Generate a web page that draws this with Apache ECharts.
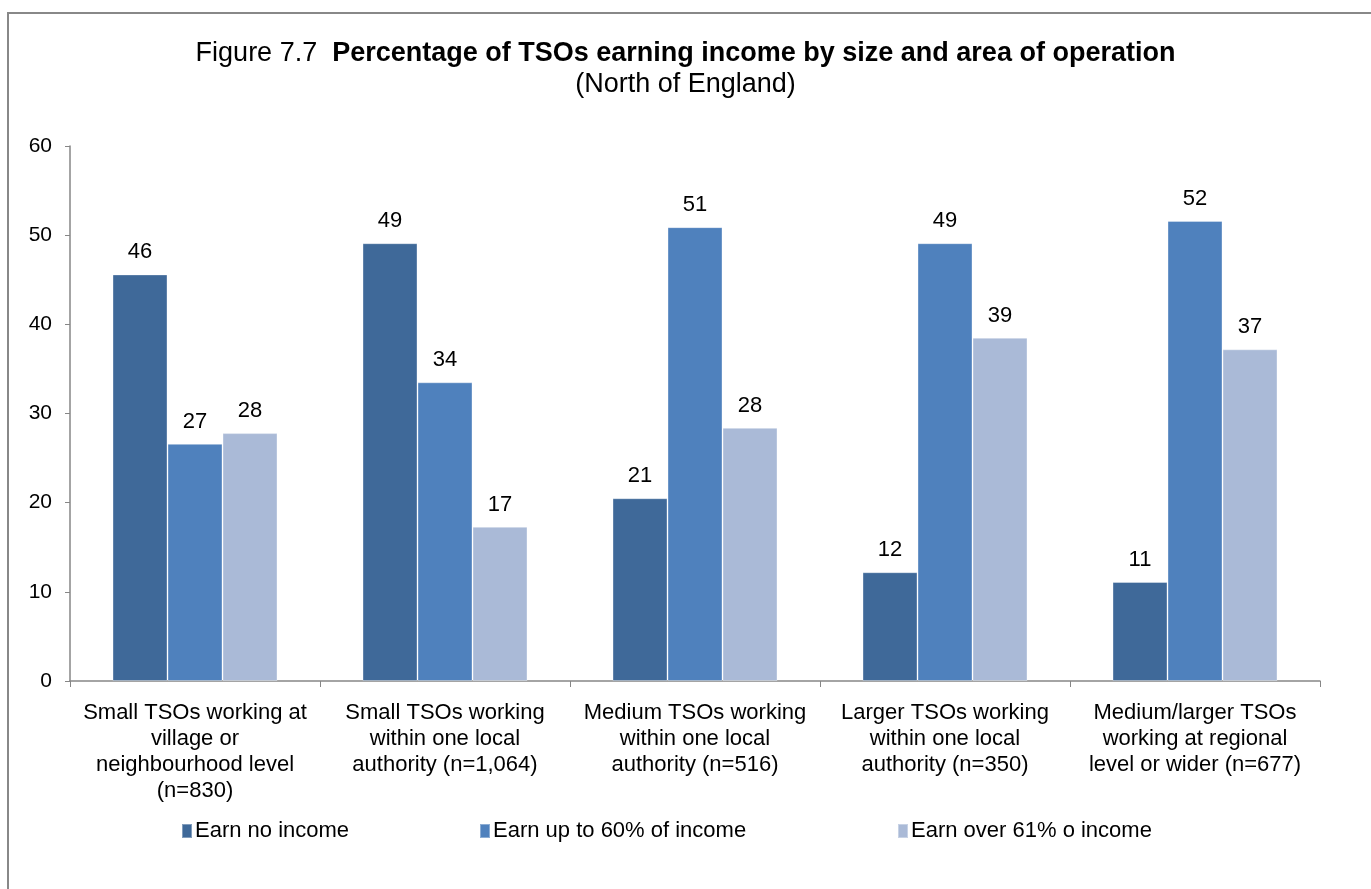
<!DOCTYPE html>
<html>
<head>
<meta charset="utf-8">
<script src="https://cdn.jsdelivr.net/npm/echarts@6/dist/echarts.min.js"></script>
<style>
  html, body { margin: 0; padding: 0; background: #fff; }
  #main { width: 1371px; height: 889px; }
</style>
</head>
<body>
<div id="main"></div>
<script>
// categories (line breaks as in the original figure)
var categories = [
  'Small TSOs working at\nvillage or\nneighbourhood level\n(n=830)',
  'Small TSOs working\nwithin one local\nauthority (n=1,064)',
  'Medium TSOs working\nwithin one local\nauthority (n=516)',
  'Larger TSOs working\nwithin one local\nauthority (n=350)',
  'Medium/larger TSOs\nworking at regional\nlevel or wider (n=677)'
];
var seriesNames = ['Earn no income', 'Earn up to 60% of income', 'Earn over 61% o income'];
// values
var noIncome = [45.6, 49.1, 20.5, 12.2, 11.1];
var upTo60 = [26.6, 33.5, 50.9, 49.1, 51.6];
var over61 = [27.8, 17.3, 28.4, 38.5, 37.2];
var yTicks = [0, 10, 20, 30, 40, 50, 60];

var colors = ['#3F6999', '#4F81BD', '#AABAD7'];
var font = 'Liberation Sans, Arial, sans-serif';

var chart = echarts.init(document.getElementById('main'));

function makeSeries(name, data, color) {
  return {
    name: name,
    type: 'bar',
    data: data,
    barGap: '0%',
    barCategoryGap: '34%',
    itemStyle: { color: color, borderColor: 'rgba(255,255,255,0.35)', borderWidth: 1 },
    label: {
      show: true,
      position: 'top',
      distance: 11,
      color: '#000',
      fontFamily: font,
      fontSize: 22,
      formatter: function (p) { return Math.round(p.value); }
    }
  };
}

// one legend per item so each can sit where the original has it
var legendLefts = [176, 474, 892];
var legends = seriesNames.map(function (n, i) {
  return {
    data: [n],
    left: legendLefts[i],
    top: 815,
    itemWidth: 10,
    itemHeight: 14,
    icon: 'rect',
    textStyle: { fontFamily: font, fontSize: 22, color: '#000', padding: [0, 0, 0, -2] }
  };
});

var option = {
  animation: false,
  backgroundColor: '#fff',
  title: {
    text: '{n|Figure 7.7  }{b|Percentage of TSOs earning income by size and area of operation}\n{n|(North of England)}',
    left: 'center',
    top: 33,
    textStyle: {
      fontWeight: 'normal',
      rich: {
        n: { fontFamily: font, fontSize: 27, fontWeight: 'normal', color: '#000', lineHeight: 31 },
        b: { fontFamily: font, fontSize: 27, fontWeight: 'bold', color: '#000', lineHeight: 31 }
      }
    }
  },
  graphic: [{
    type: 'rect',
    shape: { x: 8, y: 13, width: 1400, height: 900 },
    style: { fill: 'none', stroke: '#888', lineWidth: 2 },
    silent: true
  }],
  legend: legends,
  grid: { left: 70, right: 51, top: 146, bottom: 208, containLabel: false },
  xAxis: {
    type: 'category',
    data: categories,
    axisLine: { lineStyle: { color: '#868686', width: 1.5 } },
    axisTick: { show: true, alignWithLabel: false, length: 6, lineStyle: { color: '#868686' } },
    axisLabel: {
      interval: 0,
      margin: 19,
      color: '#000',
      fontFamily: font,
      fontSize: 22,
      lineHeight: 26
    }
  },
  yAxis: {
    type: 'value',
    min: yTicks[0],
    max: yTicks[yTicks.length - 1],
    interval: 10,
    splitLine: { show: false },
    axisLine: { show: true, lineStyle: { color: '#868686', width: 1.5 } },
    axisTick: { show: true, length: 5, lineStyle: { color: '#868686' } },
    axisLabel: { color: '#000', fontFamily: font, fontSize: 21, margin: 18 }
  },
  series: [
    makeSeries(seriesNames[0], noIncome, colors[0]),
    makeSeries(seriesNames[1], upTo60, colors[1]),
    makeSeries(seriesNames[2], over61, colors[2])
  ]
};

chart.setOption(option);
</script>
</body>
</html>
